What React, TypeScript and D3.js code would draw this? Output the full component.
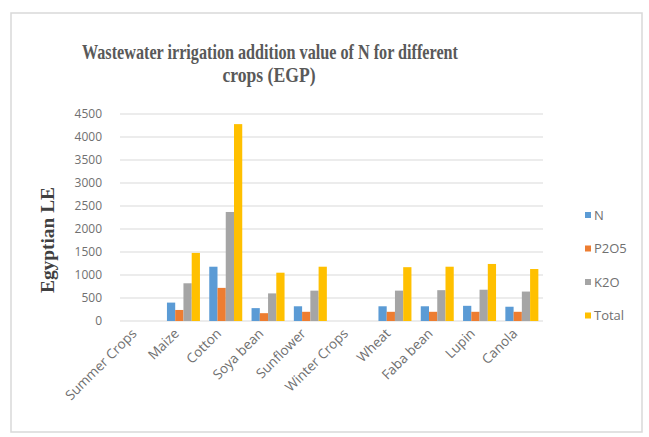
import React from "react";
import * as d3 from "d3";

const categories = ["Summer Crops", "Maize", "Cotton", "Soya bean", "Sunflower", "Winter Crops", "Wheat", "Faba bean", "Lupin", "Canola"];
const seriesNames = ["N", "P2O5", "K2O", "Total"];
const nValues = [0, 400, 1180, 280, 320, 0, 320, 320, 330, 310];
const p2o5Values = [0, 240, 720, 170, 200, 0, 200, 200, 200, 200];
const k2oValues = [0, 820, 2370, 600, 660, 0, 660, 670, 680, 640];
const totalValues = [0, 1480, 4280, 1050, 1180, 0, 1170, 1180, 1240, 1130];
const yTicks = [0, 500, 1000, 1500, 2000, 2500, 3000, 3500, 4000, 4500];
const colors = ["#5B9BD5", "#ED7D31", "#A5A5A5", "#FFC000"];
const seriesValues = [nValues, p2o5Values, k2oValues, totalValues];

export default function App() {
  const W = 649, H = 437;
  const plotL = 120, plotR = 543, plotT = 114, plotB = 321;
  const x = d3.scaleBand().domain(categories).range([plotL, plotR]).paddingInner(0.22).paddingOuter(0.11);
  const xs = d3.scaleBand().domain(seriesNames).range([0, x.bandwidth()]).padding(0);
  const y = d3.scaleLinear().domain([0, 4500]).range([plotB, plotT]);
  const sans = "'Open Sans', 'Liberation Sans', sans-serif";
  const serif = "'Liberation Serif', 'DejaVu Serif', serif";
  return (
    <svg width={W} height={H} style={{ position: "absolute", left: 0, top: 0 }}>
      <rect x={0} y={0} width={W} height={H} fill="#fff" />
      <rect x={11} y={13} width={631} height={419} fill="#fff" stroke="#d9d9d9" strokeWidth={1.5} />
      <text x={270} y={59} textAnchor="middle" fontFamily={serif} fontWeight="bold" fontSize={21} fill="#595959" textLength={376} lengthAdjust="spacingAndGlyphs">
        Wastewater irrigation addition value of N for different
      </text>
      <text x={269} y={82} textAnchor="middle" fontFamily={serif} fontWeight="bold" fontSize={21} fill="#595959" textLength={93} lengthAdjust="spacingAndGlyphs">
        crops (EGP)
      </text>
      {yTicks.map((t) => (
        <g key={t}>
          <line x1={plotL} x2={plotR} y1={y(t)} y2={y(t)} stroke="#d9d9d9" strokeWidth={1.2} />
          <text x={102} y={y(t)} dy="0.35em" textAnchor="end" fontFamily={sans} fontSize={12} fill="#707070">{t}</text>
        </g>
      ))}
      <text transform={`translate(54,240) rotate(-90)`} textAnchor="middle" fontFamily={serif} fontWeight="bold" fontSize={18} fill="#404040" textLength={106} lengthAdjust="spacingAndGlyphs">
        Egyptian LE
      </text>
      {categories.map((c, i) => (
        <g key={c}>
          {seriesValues.map((vals, s) => vals[i] > 0 ? (
            <rect key={s} x={(x(c) as number) + (xs(seriesNames[s]) as number)} y={y(vals[i])} width={xs.bandwidth()} height={plotB - y(vals[i])} fill={colors[s]} />
          ) : null)}
          <text transform={`translate(${(x(c) as number) + x.bandwidth() / 2 - 7},${331}) rotate(-45)`} textAnchor="end" dy="0.35em" fontFamily={sans} fontSize={13.5} fill="#707070">
            {c}
          </text>
        </g>
      ))}
      {seriesNames.map((s, i) => (
        <g key={s}>
          <rect x={585} y={212 + i * 33.5} width={6} height={6} fill={colors[i]} />
          <text x={594} y={215 + i * 33.5} dy="0.35em" fontFamily={sans} fontSize={13} fill="#707070">{s}</text>
        </g>
      ))}
    </svg>
  );
}
